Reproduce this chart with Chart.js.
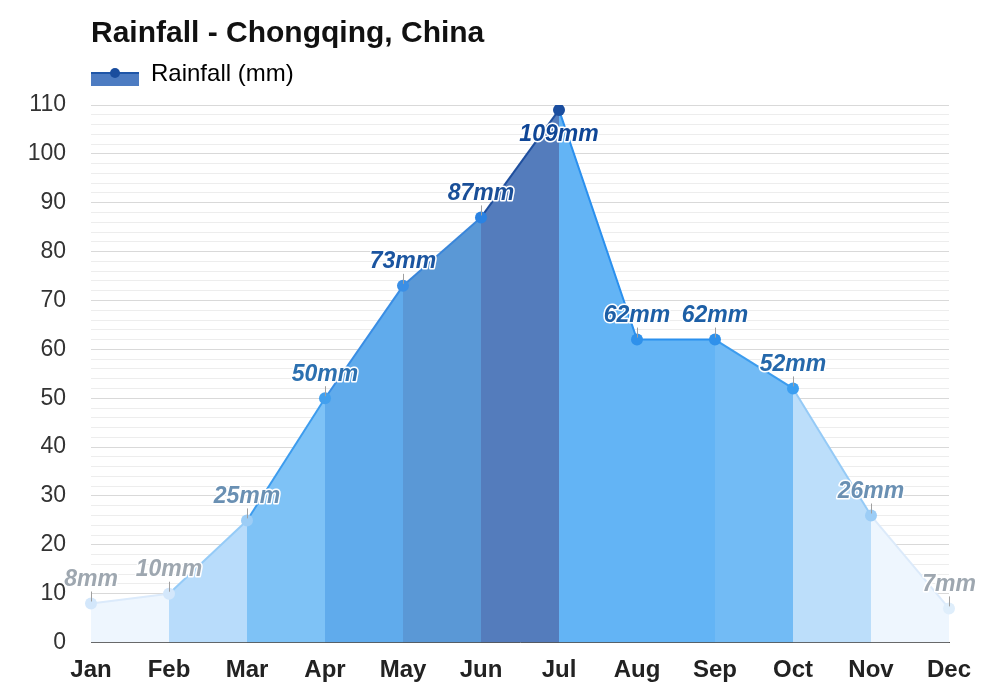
<!DOCTYPE html>
<html>
<head>
<meta charset="utf-8">
<script src="https://cdn.jsdelivr.net/npm/chart.js@4.4.0/dist/chart.umd.min.js"></script>
<style>
  html, body { margin: 0; padding: 0; background: #fff; }
  #wrap { width: 1000px; height: 700px; }
</style>
</head>
<body>
<div id="wrap"><canvas id="chart" width="1000" height="700"></canvas></div>
<script>
// dados
const months = ["Jan", "Feb", "Mar", "Apr", "May", "Jun", "Jul", "Aug", "Sep", "Oct", "Nov", "Dec"];
const rainfall = [8, 10, 25, 50, 73, 87, 109, 62, 62, 52, 26, 7];

// cores por mês (ponto, rótulo) e por trecho (preenchimento, linha)
const pointColors = ["#d3e7fb", "#d3e7fb", "#9ccdf6", "#43a0ee", "#3a8fe6", "#2a82e2", "#1a4d9e", "#2f91eb", "#2f91eb", "#3c9ff1", "#9ccdf6", "#dfeefb"];
const labelColors = ["#9ea7b0", "#9ea7b0", "#6a90b3", "#2c70b0", "#1b55a0", "#1a4f98", "#0f4696", "#1d5fa6", "#1d5fa6", "#2568ab", "#6a90b3", "#9ea7b0"];
const fillColors = ["#eef6fe", "#b8dcfb", "#7ec2f6", "#60abec", "#5a98d6", "#547cbc", "#63b4f5", "#63b4f5", "#72bbf5", "#bcdefa", "#eef6fe"];
const lineColors = ["#dbeafb", "#95cbf7", "#3d9cee", "#3a8ee4", "#3a86da", "#1f4f9e", "#2b90ee", "#2b90ee", "#3c9cee", "#95caf6", "#dceafa"];

// ícone da legenda
const legendIcon = document.createElement("canvas");
legendIcon.width = 48;
legendIcon.height = 26;
const ic = legendIcon.getContext("2d");
ic.fillStyle = "#4d7cc2";
ic.fillRect(0, 12, 48, 13);
ic.strokeStyle = "#1f56a8";
ic.lineWidth = 2;
ic.beginPath(); ic.moveTo(0, 12); ic.lineTo(48, 12); ic.stroke();
ic.fillStyle = "#1a4d9e";
ic.beginPath(); ic.arc(24, 12, 5, 0, Math.PI * 2); ic.fill();

// rótulos "XXmm" acima dos pontos
const valueLabels = {
  id: "valueLabels",
  afterDatasetsDraw(chart) {
    const { ctx } = chart;
    const meta = chart.getDatasetMeta(0);
    const top = Math.max(...rainfall);
    ctx.save();
    ctx.font = "italic bold 23px 'Liberation Sans', Arial, sans-serif";
    ctx.textAlign = "center";
    ctx.textBaseline = "middle";
    ctx.lineJoin = "round";
    meta.data.forEach((pt, i) => {
      const text = rainfall[i] + "mm";
      let ty;
      if (rainfall[i] === top) {
        ty = pt.y + 25;
      } else {
        ctx.strokeStyle = "#a0a0a0";
        ctx.lineWidth = 1;
        ctx.beginPath();
        ctx.moveTo(Math.round(pt.x) + 0.5, pt.y - 2);
        ctx.lineTo(Math.round(pt.x) + 0.5, pt.y - 12);
        ctx.stroke();
        ty = pt.y - 24;
      }
      ctx.strokeStyle = "#ffffff";
      ctx.lineWidth = 3;
      ctx.strokeText(text, pt.x, ty);
      ctx.fillStyle = labelColors[i];
      ctx.fillText(text, pt.x, ty);
    });
    ctx.restore();
  }
};

const ctx = document.getElementById("chart").getContext("2d");
const fontFamily = "'Liberation Sans', Arial, sans-serif";

const myChart = new Chart(ctx, {
  type: "line",
  data: {
    labels: months,
    datasets: [{
      label: "Rainfall (mm)",
      data: rainfall,
      fill: "origin",
      borderWidth: 2,
      tension: 0,
      pointRadius: 6,
      pointHoverRadius: 6,
      pointBorderWidth: 0,
      pointBackgroundColor: pointColors,
      pointBorderColor: pointColors,
      backgroundColor: "#63b4f5",
      borderColor: "#2b90ee",
      segment: {
        backgroundColor: c => fillColors[c.p0DataIndex],
        borderColor: c => lineColors[c.p0DataIndex]
      }
    }]
  },
  options: {
    responsive: false,
    animation: false,
    layout: { padding: { top: 6, left: 0, right: 51, bottom: 1 } },
    plugins: {
      title: {
        display: true,
        text: "Rainfall - Chongqing, China",
        align: "start",
        fullSize: false,
        color: "#111",
        font: { family: fontFamily, size: 30, weight: "bold" },
        padding: { top: 10, bottom: 10 }
      },
      legend: {
        align: "start",
        fullSize: false,
        weight: 1700,
        labels: {
          color: "#222",
          font: { family: fontFamily, size: 24 },
          usePointStyle: true,
          pointStyleWidth: 48,
          padding: 0,
          generateLabels: () => [{
            text: "Rainfall (mm)",
            pointStyle: legendIcon,
            fillStyle: "#4d7cc2",
            strokeStyle: "#1f56a8",
            lineWidth: 0,
            datasetIndex: 0
          }]
        }
      },
      // espaço entre legenda e gráfico
      subtitle: {
        display: true,
        text: "",
        fullSize: false,
        font: { size: 9, lineHeight: 1 },
        padding: 0
      },
      tooltip: { enabled: false }
    },
    scales: {
      x: {
        offset: false,
        grid: { display: false, drawTicks: false },
        border: { display: true, color: "#555", width: 1 },
        ticks: {
          color: "#222",
          padding: 15,
          maxRotation: 0,
          font: { family: fontFamily, size: 24, weight: "bold", lineHeight: 1.1 }
        }
      },
      y: {
        min: 0,
        max: 110,
        afterFit: scale => { scale.width = 91; },
        border: { display: false },
        grid: {
          drawTicks: false,
          color: c => (c.tick.value % 10 === 0 ? "#d9d9d9" : "#ededed"),
          lineWidth: 1
        },
        ticks: {
          stepSize: 2,
          autoSkip: false,
          padding: 25,
          color: "#333",
          font: { family: fontFamily, size: 23 },
          callback: v => (v % 10 === 0 ? v : "")
        }
      }
    }
  },
  plugins: [valueLabels]
});
</script>
</body>
</html>
